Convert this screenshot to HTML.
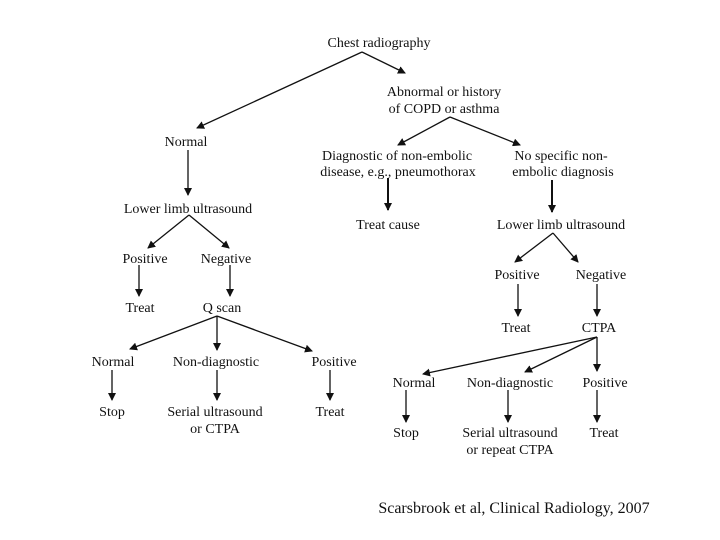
<!DOCTYPE html>
<html><head><meta charset="utf-8"><style>
html,body{margin:0;padding:0;background:#fff;width:720px;height:540px;overflow:hidden}
svg text{font-family:"Liberation Serif",serif;font-size:14px;fill:#111;text-anchor:middle}
</style></head><body>
<svg width="720" height="540" viewBox="0 0 720 540" xmlns="http://www.w3.org/2000/svg">
<defs><marker id="a" markerWidth="8" markerHeight="8" refX="7" refY="4" orient="auto" markerUnits="userSpaceOnUse"><path d="M0,0 L8,4 L0,8 z" fill="#111"/></marker></defs>
<g stroke="#111" stroke-width="1.3" fill="none" marker-end="url(#a)">
<line x1="362" y1="52" x2="197" y2="128"/>
<line x1="362" y1="52" x2="405" y2="73"/>
<line x1="450" y1="117" x2="398" y2="145"/>
<line x1="450" y1="117" x2="520" y2="145"/>
<line x1="188" y1="150" x2="188" y2="195"/>
<line x1="388" y1="178" x2="388" y2="210" stroke-width="2"/>
<line x1="552" y1="180" x2="552" y2="212" stroke-width="2"/>
<line x1="189" y1="215" x2="148" y2="248"/>
<line x1="189" y1="215" x2="229" y2="248"/>
<line x1="139" y1="265" x2="139" y2="296"/>
<line x1="230" y1="265" x2="230" y2="296"/>
<line x1="217" y1="316" x2="130" y2="349"/>
<line x1="217" y1="316" x2="217" y2="350"/>
<line x1="217" y1="316" x2="312" y2="351"/>
<line x1="112" y1="370" x2="112" y2="400"/>
<line x1="217" y1="370" x2="217" y2="400"/>
<line x1="330" y1="370" x2="330" y2="400"/>
<line x1="553" y1="233" x2="515" y2="262"/>
<line x1="553" y1="233" x2="578" y2="262"/>
<line x1="518" y1="284" x2="518" y2="316"/>
<line x1="597" y1="284" x2="597" y2="316"/>
<line x1="597" y1="337" x2="423" y2="374"/>
<line x1="597" y1="337" x2="525" y2="372"/>
<line x1="597" y1="337" x2="597" y2="371"/>
<line x1="406" y1="390" x2="406" y2="422"/>
<line x1="508" y1="390" x2="508" y2="422"/>
<line x1="597" y1="390" x2="597" y2="422"/>
</g>
<text x="379" y="47">Chest radiography</text>
<text x="444" y="96">Abnormal or history</text>
<text x="444" y="113">of COPD or asthma</text>
<text x="186" y="146">Normal</text>
<text x="397" y="160">Diagnostic of non-embolic</text>
<text x="398" y="176">disease, e.g., pneumothorax</text>
<text x="561" y="160">No specific non-</text>
<text x="563" y="176">embolic diagnosis</text>
<text x="388" y="229">Treat cause</text>
<text x="561" y="229">Lower limb ultrasound</text>
<text x="188" y="213">Lower limb ultrasound</text>
<text x="145" y="263">Positive</text>
<text x="226" y="263">Negative</text>
<text x="140" y="312">Treat</text>
<text x="222" y="312">Q scan</text>
<text x="113" y="366">Normal</text>
<text x="216" y="366">Non-diagnostic</text>
<text x="334" y="366">Positive</text>
<text x="112" y="416">Stop</text>
<text x="215" y="416">Serial ultrasound</text>
<text x="215" y="433">or CTPA</text>
<text x="330" y="416">Treat</text>
<text x="517" y="279">Positive</text>
<text x="601" y="279">Negative</text>
<text x="516" y="332">Treat</text>
<text x="599" y="332">CTPA</text>
<text x="414" y="387">Normal</text>
<text x="510" y="387">Non-diagnostic</text>
<text x="605" y="387">Positive</text>
<text x="406" y="437">Stop</text>
<text x="510" y="437">Serial ultrasound</text>
<text x="510" y="454">or repeat CTPA</text>
<text x="604" y="437">Treat</text>
<text x="514" y="513" style="font-size:16px">Scarsbrook et al, Clinical Radiology, 2007</text>
</svg>
</body></html>
